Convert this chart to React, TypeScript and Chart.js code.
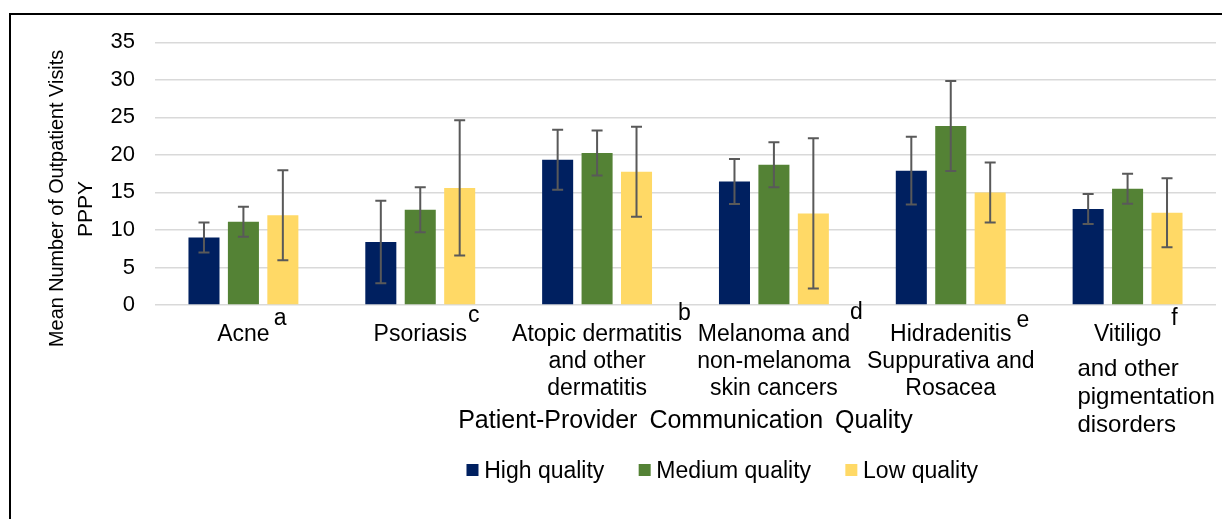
import React, { useEffect, useRef } from "react";
import { Chart, registerables } from "chart.js";

Chart.register(...registerables);

// ---------- data ----------
const categories = [
  "Acne",
  "Psoriasis",
  "Atopic dermatitis and other dermatitis",
  "Melanoma and non-melanoma skin cancers",
  "Hidradenitis Suppurativa and Rosacea",
  "Vitiligo and other pigmentation disorders",
];
const categoryLines = [
  ["Acne"],
  ["Psoriasis"],
  ["Atopic dermatitis", "and other", "dermatitis"],
  ["Melanoma and", "non-melanoma", "skin cancers"],
  ["Hidradenitis", "Suppurativa and", "Rosacea"],
  ["Vitiligo"],
];
const vitiligoExtraLines = ["and other", "pigmentation", "disorders"];
const superscripts = ["a", "c", "b", "d", "e", "f"];

const seriesNames = ["High quality", "Medium quality", "Low quality"];
const highQuality = [9.0, 8.4, 19.35, 16.45, 17.9, 12.8];
const highQualityError = [2, 5.5, 4, 3, 4.5, 2];
const mediumQuality = [11.1, 12.7, 20.25, 18.7, 23.85, 15.5];
const mediumQualityError = [2, 3, 3, 3, 6, 2];
const lowQuality = [11.95, 15.6, 17.75, 12.2, 15.0, 12.3];
const lowQualityError = [6, 9, 6, 10, 4, 4.6];

const yMin = 0;
const yMax = 35;
const yStep = 5;
const yAxisTitle = ["Mean Number of Outpatient Visits", "PPPY"];
const xAxisTitle = "Patient-Provider Communication Quality";

// ---------- styles ----------
const FONT = "'Liberation Sans', Arial, sans-serif";
const COLORS = ["#002060", "#548235", "#FFD966"];
const ERR_COLOR = "#595959";
const SUP_DX = [4, 1, -4, 0, 5, 10];
const SUP_RAISE = [15.7, 18.7, 20.7, 22.2, 14.2, 15.7];

const errorBarPlugin = {
  id: "errorBars",
  afterDatasetsDraw(chart: any) {
    const ctx = chart.ctx;
    const y = chart.scales.y;
    ctx.save();
    ctx.strokeStyle = ERR_COLOR;
    ctx.lineWidth = 2;
    chart.data.datasets.forEach((ds: any, i: number) => {
      const meta = chart.getDatasetMeta(i);
      meta.data.forEach((bar: any, j: number) => {
        const v = ds.data[j];
        const e = ds.errors[j];
        const top = y.getPixelForValue(v + e);
        const bot = y.getPixelForValue(v - e);
        const x = bar.x;
        ctx.beginPath();
        ctx.moveTo(x, top);
        ctx.lineTo(x, bot);
        ctx.moveTo(x - 5.5, top);
        ctx.lineTo(x + 5.5, top);
        ctx.moveTo(x - 5.5, bot);
        ctx.lineTo(x + 5.5, bot);
        ctx.stroke();
      });
    });
    ctx.restore();
  },
};

const labelsPlugin = {
  id: "customLabels",
  afterDraw(chart: any) {
    const ctx = chart.ctx;
    const xs = chart.scales.x;
    const area = chart.chartArea;
    const bottom = area.bottom;
    ctx.save();
    ctx.fillStyle = "#000";
    ctx.textBaseline = "alphabetic";

    // category labels
    const lineBase = [35.7, 62.7, 89.7];
    categoryLines.forEach((lines, j) => {
      const cx = xs.getPixelForValue(j);
      ctx.font = `23px ${FONT}`;
      ctx.textAlign = "center";
      lines.forEach((ln, k) => {
        ctx.fillText(ln, cx, bottom + lineBase[k]);
      });
      const w = ctx.measureText(lines[0]).width;
      ctx.textAlign = "left";
      ctx.fillText(superscripts[j], cx + w / 2 + SUP_DX[j], bottom + lineBase[0] - SUP_RAISE[j]);
      if (j === categoryLines.length - 1) {
        ctx.font = `24px ${FONT}`;
        ctx.textAlign = "left";
        const ex = [71, 99, 127];
        vitiligoExtraLines.forEach((ln, k) => {
          ctx.fillText(ln, cx - 50.2, bottom + ex[k]);
        });
      }
    });

    // x axis title
    ctx.font = `25px ${FONT}`;
    ctx.textAlign = "center";
    try {
      (ctx as any).wordSpacing = "5px";
    } catch (e) {}
    ctx.fillText(xAxisTitle, (area.left + area.right) / 2, bottom + 123.3);
    try {
      (ctx as any).wordSpacing = "0px";
    } catch (e) {}

    // y axis title
    ctx.font = `21px ${FONT}`;
    const yCenters = [190.4, 201];
    const xBases = [55.3, 83.7];
    const maxW = [297, 60];
    yAxisTitle.forEach((t, k) => {
      ctx.save();
      ctx.translate(xBases[k], yCenters[k]);
      ctx.rotate(-Math.PI / 2);
      ctx.textAlign = "center";
      ctx.fillText(t, 0, 0, maxW[k]);
      ctx.restore();
    });

    // legend
    ctx.font = `23px ${FONT}`;
    const box = 12;
    const gap = 5.7;
    const spacing = 34.3;
    const widths = chart.data.datasets.map((d: any) => ctx.measureText(d.label).width);
    const total =
      widths.reduce((a: number, b: number) => a + b, 0) +
      widths.length * (box + gap) +
      (widths.length - 1) * spacing;
    let lx = (area.left + area.right) / 2 + 36.8 - total / 2;
    chart.data.datasets.forEach((d: any, i: number) => {
      ctx.fillStyle = d.backgroundColor;
      ctx.fillRect(lx, bottom + 159, box, box);
      ctx.fillStyle = "#000";
      ctx.textAlign = "left";
      ctx.fillText(d.label, lx + box + gap, bottom + 172.7);
      lx += box + gap + widths[i] + spacing;
    });
    ctx.restore();
  },
};

export default function App() {
  const canvasRef = useRef<HTMLCanvasElement | null>(null);

  useEffect(() => {
    document.documentElement.style.overflow = "hidden";
    document.body.style.overflow = "hidden";
    const canvas = canvasRef.current;
    if (!canvas) return;
    const seriesValues = [highQuality, mediumQuality, lowQuality];
    const seriesErrors = [highQualityError, mediumQualityError, lowQualityError];
    const chart = new Chart(canvas, {
      type: "bar",
      data: {
        labels: categoryLines,
        datasets: seriesNames.map((name, i) => ({
          label: name,
          data: seriesValues[i],
          errors: seriesErrors[i],
          backgroundColor: COLORS[i],
          borderWidth: 0,
          barPercentage: 0.787,
          categoryPercentage: 0.669,
        })) as any,
      },
      options: {
        animation: false,
        responsive: false,
        maintainAspectRatio: false,
        layout: { padding: { left: 0, right: 14, top: 34.3, bottom: 214 } },
        plugins: {
          legend: { display: false },
          tooltip: { enabled: false },
          title: { display: false },
        },
        scales: {
          x: {
            grid: { display: false, drawTicks: false },
            border: { display: false },
            ticks: { display: false },
            afterFit: (s: any) => {
              s.height = 0;
            },
          },
          y: {
            min: yMin,
            max: yMax,
            ticks: {
              stepSize: yStep,
              padding: 20,
              color: "#000",
              font: { family: FONT, size: 22 },
            },
            grid: { color: "#D9D9D9", lineWidth: 1.6, drawTicks: false },
            border: { display: false },
            afterFit: (s: any) => {
              s.width = 147;
            },
          },
        },
      } as any,
      plugins: [errorBarPlugin, labelsPlugin],
    });
    return () => chart.destroy();
  }, []);

  return (
    <div style={{ position: "relative", width: 1222, height: 511, overflow: "hidden" }}>
      <canvas
        ref={canvasRef}
        width={1222}
        height={511}
        style={{ position: "absolute", left: 0, top: 0, display: "block" }}
        aria-label={categories.join(", ")}
      />
      <div
        style={{
          position: "absolute",
          left: 1,
          top: 5,
          width: 1400,
          height: 700,
          borderTop: "2px solid #000",
          borderLeft: "2px solid #000",
          pointerEvents: "none",
        }}
      />
    </div>
  );
}
